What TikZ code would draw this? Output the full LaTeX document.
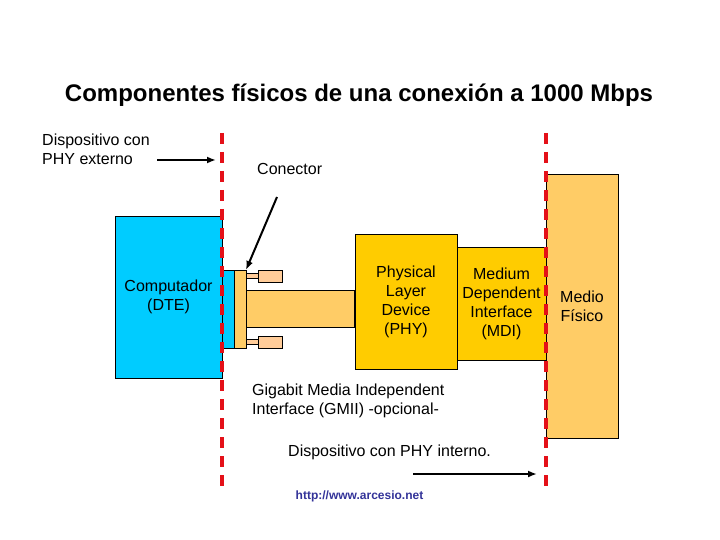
\documentclass[tikz,border=0pt]{standalone}
\usepackage{fontspec}
\setmainfont{Liberation Sans}
\usetikzlibrary{arrows.meta}
\definecolor{dteblue}{RGB}{0,204,255}
\definecolor{phygold}{RGB}{255,204,0}
\definecolor{lightorange}{RGB}{255,204,102}
\definecolor{peach}{RGB}{255,204,153}
\definecolor{dashred}{RGB}{228,16,24}
\definecolor{urlblue}{RGB}{51,51,153}
\tikzset{
  box/.style={draw=black, line width=0.8pt, inner sep=0pt, outer sep=0pt, align=center, font=\fontsize{16}{19}\selectfont},
  lbl/.style={inner sep=0pt, align=left, font=\fontsize{16}{19}\selectfont},
  boundary/.style={draw=dashred, line width=4.5pt, dash pattern=on 11pt off 8pt},
  pointer/.style={draw=black, line width=2pt, -{Latex[length=9pt,width=7pt]}},
}
\begin{document}
\begin{tikzpicture}[x=1pt,y=-1pt]
\useasboundingbox[fill=white] (0,0) rectangle (720,540);

% title
\node[inner sep=0pt, font=\fontsize{24}{28}\selectfont\bfseries] (title) at (359,95) {Componentes físicos de una conexión a 1000 Mbps};

% boxes
\node[box, fill=dteblue, minimum width=107pt, minimum height=162pt, anchor=north west] (dte) at (115,216) {Computador\\(DTE)};
\node[box, fill=dteblue, minimum width=12pt, minimum height=78pt, anchor=north west] (port) at (222,270) {};
\node[box, fill=lightorange, minimum width=108pt, minimum height=37pt, anchor=north west] (cable) at (246,290) {};
\node[box, fill=lightorange, minimum width=12pt, minimum height=78pt, anchor=north west] (plate) at (234,270) {};
\node[box, fill=peach, minimum width=12pt, minimum height=5pt, anchor=north west] (stem1) at (246,273) {};
\node[box, fill=peach, minimum width=24pt, minimum height=12pt, anchor=north west] (pin1) at (258,270) {};
\node[box, fill=peach, minimum width=12pt, minimum height=5pt, anchor=north west] (stem2) at (246,339) {};
\node[box, fill=peach, minimum width=24pt, minimum height=12pt, anchor=north west] (pin2) at (258,336) {};
\node[box, fill=phygold, minimum width=102pt, minimum height=135pt, anchor=north west] (phy) at (355,234) {Physical\\Layer\\Device\\(PHY)};
\node[box, fill=phygold, minimum width=89pt, minimum height=113pt, anchor=north west] (mdi) at (457,247) {Medium\\Dependent\\Interface\\(MDI)};
\node[box, fill=lightorange, minimum width=72pt, minimum height=264pt, anchor=north west] (medio) at (546,174) {Medio\\Físico};

% boundaries
\coordinate (b1t) at (222,133);
\coordinate (b1b) at (222,493);
\coordinate (b2t) at (546,133);
\coordinate (b2b) at (546,493);
\draw[boundary] (b1t) -- (b1b);
\draw[boundary] (b2t) -- (b2b);

% labels
\node[lbl, anchor=west] (ext) at (42,149) {Dispositivo con\\PHY externo};
\node[lbl, anchor=west] (con) at (257,169) {Conector};
\node[lbl, anchor=west] (gmii) at (252,401) {Gigabit Media Independent\\Interface (GMII) -opcional-};
\node[lbl, anchor=west] (int) at (288,452) {Dispositivo con PHY interno.};
\node[inner sep=0pt, text=urlblue, font=\fontsize{12}{14}\selectfont\bfseries] (url) at (359.5,496) {http://www.arcesio.net};

% pointers
\coordinate (p1s) at (157,160);
\coordinate (p1e) at (216,160);
\draw[pointer] (p1s) -- (p1e);
\coordinate (p2s) at (277,197);
\draw[pointer] (p2s) -- (plate.north east);
\coordinate (p3s) at (413,474);
\coordinate (p3e) at (537,474);
\draw[pointer] (p3s) -- (p3e);
\end{tikzpicture}
\end{document}
